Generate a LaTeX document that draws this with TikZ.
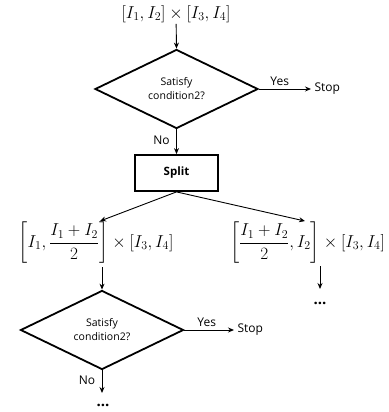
\documentclass[tikz,border=0pt]{standalone}
\usepackage{amsmath}
\usepackage{fontspec}
\setmainfont{Open Sans}
\usetikzlibrary{shapes.geometric,arrows.meta}
\begin{document}
\begin{tikzpicture}[x=1pt,y=-1pt,
  conn/.style={-{Stealth[length=6pt,width=5pt]},line width=0.9pt},
  dia/.style={diamond,draw,line width=1.8pt,aspect=2,inner sep=0pt,minimum width=163pt,minimum height=79pt,align=center,font=\fontsize{10.5}{14}\selectfont},
  boxnode/.style={rectangle,draw,line width=1.8pt,minimum width=83pt,minimum height=36pt,font=\fontsize{11.5}{13}\selectfont\bfseries},
  lab/.style={font=\fontsize{12}{14}\selectfont},
  nolab/.style={lab,left,pos=0.45,xshift=-3pt},
  formula/.style={inner sep=1pt,font=\fontsize{17.5}{20}\selectfont},
  dots/.style={font=\fontsize{15}{16}\selectfont\bfseries,inner sep=0pt}]
\useasboundingbox (0,0) rectangle (388,412);
\node[formula] (top) at (176,14) {$[I_1,I_2]\times[I_3,I_4]$};
\node[dia] (d1) at (176.5,89) {Satisfy\\condition2?};
\node[lab,anchor=west] (stop1) at (311,89) {Stop};
\node[boxnode] (split) at (176.5,173) {Split};
\node[formula] (lf) at (96,243) {$\left[I_1,\dfrac{I_1+I_2}{2}\right]\times[I_3,I_4]$};
\node[formula] (rf) at (307.5,243) {$\left[\dfrac{I_1+I_2}{2},I_2\right]\times[I_3,I_4]$};
\node[dia] (d2) at (102,330) {Satisfy\\condition2?};
\node[lab,anchor=west] (stop2) at (234,330) {Stop};
\node[dots,anchor=base] (dots1) at (320,304) {...};
\node[dots,anchor=base] (dots2) at (103,406) {...};
\coordinate (rfa) at (320,266);
\coordinate (rfb) at (320,289);
\coordinate (lfa) at (102,267);
\coordinate (d2n) at (102,393);

\draw[conn] (top) -- (d1.north);
\draw[conn] (d1.east) -- node[lab,above,pos=0.4] {Yes} (stop1.west);
\draw[conn] (d1.south) -- node[nolab] {No} (split.north);
\draw[conn] (split.south) -- ([xshift=4pt]lf.north);
\draw[conn] (split.south) -- ([xshift=-2.5pt]rf.north);
\draw[conn] (lfa) -- (d2.north);
\draw[conn] (rfa) -- (rfb);
\draw[conn] (d2.east) -- node[lab,above,pos=0.45] {Yes} (stop2.west);
\draw[conn] (d2.south) -- node[nolab] {No} (d2n);
\end{tikzpicture}
\end{document}
